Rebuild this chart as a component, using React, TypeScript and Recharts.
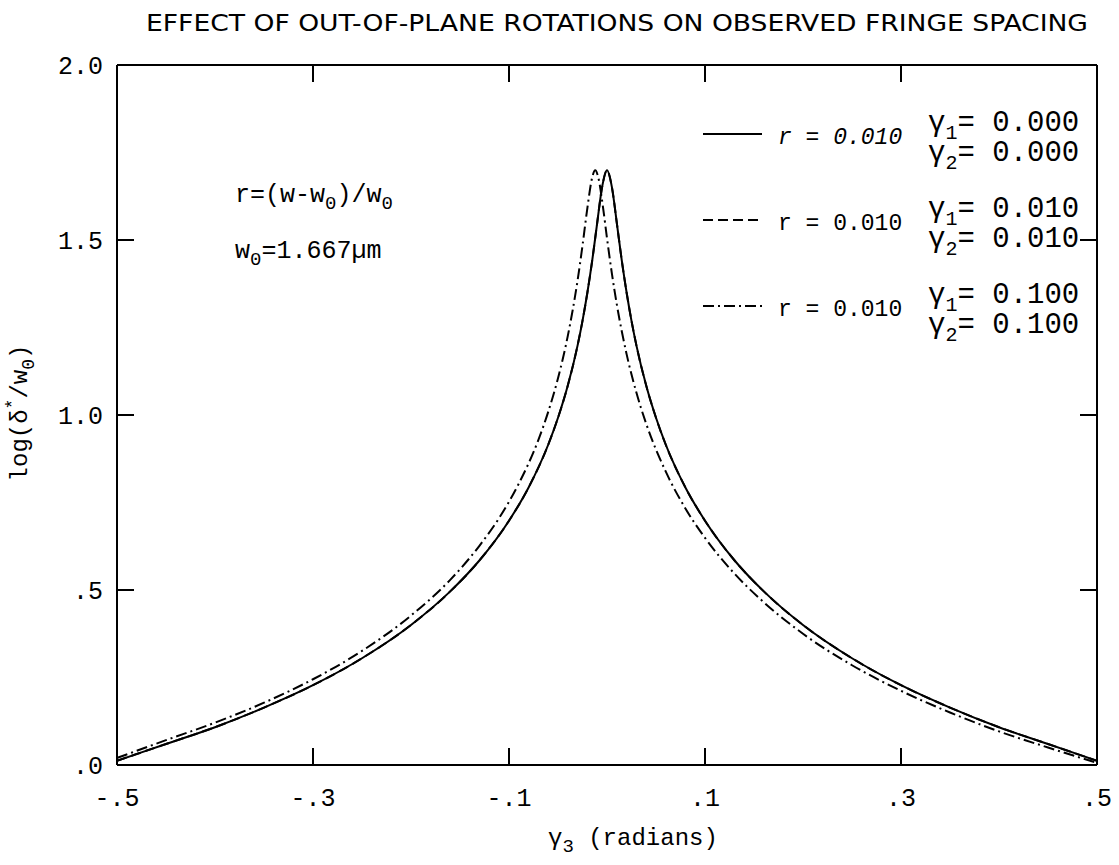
import React from "react";
import { LineChart, Line, XAxis, YAxis } from "recharts";

const xTicks = [-0.5, -0.3, -0.1, 0.1, 0.3, 0.5];
const yTicks = [0, 0.5, 1.0, 1.5, 2.0];

// r = 0.010, gamma1 = gamma2 = 0.000 (solid)
const solidX = [-0.5, -0.45, -0.4, -0.35, -0.3, -0.25, -0.2, -0.16, -0.13, -0.1, -0.08, -0.06, -0.05, -0.04, -0.03, -0.025, -0.02, -0.015, -0.01, -0.005, 0,
  0.005, 0.01, 0.015, 0.02, 0.025, 0.03, 0.04, 0.05, 0.06, 0.08, 0.1, 0.13, 0.16, 0.2, 0.25, 0.3, 0.35, 0.4, 0.45, 0.5];
const solidY = [0.012, 0.060, 0.108, 0.164, 0.228, 0.305, 0.400, 0.496, 0.585, 0.698, 0.793, 0.915, 0.992, 1.084, 1.199, 1.269, 1.350, 1.443, 1.549, 1.651, 1.699,
  1.651, 1.549, 1.443, 1.350, 1.269, 1.199, 1.084, 0.992, 0.915, 0.793, 0.698, 0.585, 0.496, 0.400, 0.305, 0.228, 0.164, 0.108, 0.060, 0.012];

// r = 0.010, gamma1 = gamma2 = 0.010 (dashed) - nearly coincides with solid
const dashedX = [-0.5, -0.45, -0.4, -0.35, -0.3, -0.25, -0.2, -0.16, -0.13, -0.1, -0.08, -0.06, -0.05, -0.04, -0.03, -0.025, -0.02, -0.015, -0.01, -0.005, 0,
  0.005, 0.01, 0.015, 0.02, 0.025, 0.03, 0.04, 0.05, 0.06, 0.08, 0.1, 0.13, 0.16, 0.2, 0.25, 0.3, 0.35, 0.4, 0.45, 0.5];
const dashedY = [0.012, 0.060, 0.108, 0.164, 0.228, 0.305, 0.400, 0.496, 0.585, 0.698, 0.793, 0.915, 0.992, 1.084, 1.199, 1.269, 1.350, 1.443, 1.549, 1.651, 1.699,
  1.651, 1.549, 1.443, 1.350, 1.269, 1.199, 1.084, 0.992, 0.915, 0.793, 0.698, 0.585, 0.496, 0.400, 0.305, 0.228, 0.164, 0.108, 0.060, 0.012];

// r = 0.010, gamma1 = gamma2 = 0.100 (dash-dot)
const dashDotX = [-0.5, -0.45, -0.4, -0.35, -0.3, -0.25, -0.2, -0.16, -0.13, -0.11, -0.09, -0.07, -0.06, -0.05, -0.04, -0.035, -0.03, -0.025, -0.02, -0.015, -0.012,
  -0.009, -0.004, 0, 0.005, 0.01, 0.02, 0.03, 0.04, 0.06, 0.08, 0.1, 0.13, 0.16, 0.2, 0.25, 0.3, 0.35, 0.4, 0.45, 0.5];
const dashDotY = [0.020, 0.071, 0.121, 0.178, 0.245, 0.326, 0.427, 0.529, 0.627, 0.706, 0.804, 0.929, 1.009, 1.105, 1.226, 1.300, 1.385, 1.484, 1.592, 1.680, 1.699,
  1.680, 1.592, 1.505, 1.404, 1.316, 1.174, 1.064, 0.975, 0.838, 0.733, 0.649, 0.547, 0.465, 0.375, 0.285, 0.212, 0.150, 0.096, 0.050, 0.006];

const toRows = (xs: number[], ys: number[]) => xs.map((x, i) => ({ x, y: ys[i] }));
const solidData = toRows(solidX, solidY);
const dashedData = toRows(dashedX, dashedY);
const dashDotData = toRows(dashDotX, dashDotY);

const MONO = "'Liberation Mono', 'DejaVu Sans Mono', monospace";
const SANS = "'Liberation Sans Narrow', 'DejaVu Sans Condensed', 'Liberation Sans', sans-serif";
const TICK_LEN = 17;

const fmtX = (v: number) => {
  const s = "." + Math.round(Math.abs(v) * 10);
  return v < 0 ? "-" + s : s;
};
const fmtY = (v: number) => (v < 1 ? "." + Math.round(v * 10) : v.toFixed(1));

const BottomTick = (p: any) => {
  const { x, y, payload } = p;
  const v = payload.value;
  const inner = Math.abs(v) < 0.49;
  return (
    <g>
      {inner && <line x1={x} x2={x} y1={y} y2={y - TICK_LEN} stroke="#000" strokeWidth={2} />}
      <text x={x} y={y + 41} textAnchor="middle" fontFamily={MONO} fontSize={25} fill="#000">
        {fmtX(v)}
      </text>
    </g>
  );
};
const TopTick = (p: any) => {
  const { x, y, payload } = p;
  const inner = Math.abs(payload.value) < 0.49;
  return <g>{inner && <line x1={x} x2={x} y1={y} y2={y + TICK_LEN} stroke="#000" strokeWidth={2} />}</g>;
};
const LeftTick = (p: any) => {
  const { x, y, payload } = p;
  const v = payload.value;
  const inner = v > 0.01 && v < 1.99;
  return (
    <g>
      {inner && <line x1={x} x2={x + TICK_LEN} y1={y} y2={y} stroke="#000" strokeWidth={2} />}
      <text x={x - 14} y={y + 9} textAnchor="end" fontFamily={MONO} fontSize={25} fill="#000">
        {fmtY(v)}
      </text>
    </g>
  );
};
const RightTick = (p: any) => {
  const { x, y, payload } = p;
  const v = payload.value;
  const inner = v > 0.01 && v < 1.99;
  return <g>{inner && <line x1={x} x2={x - TICK_LEN} y1={y} y2={y} stroke="#000" strokeWidth={2} />}</g>;
};

const axisLine = { stroke: "#000", strokeWidth: 2 };

const LegendRow = ({ y, dash, g1, g2, italic }: { y: number; dash?: string; g1: string; g2: string; italic?: boolean }) => (
  <g>
    <line x1={703} x2={762} y1={y - 10} y2={y - 10} stroke="#000" strokeWidth={2} strokeDasharray={dash} />
    <text x={778} y={y} fontFamily={MONO} fontSize={23} fontStyle={italic ? "italic" : "normal"} xmlSpace="preserve" fill="#000">
      r = 0.010
    </text>
    <text x={928} y={y - 13} fontFamily={MONO} fontSize={29} fill="#000" xmlSpace="preserve">
      γ<tspan fontSize={20} dy={8}>1</tspan><tspan dy={-8}>= {g1}</tspan>
    </text>
    <text x={928} y={y + 17} fontFamily={MONO} fontSize={29} fill="#000" xmlSpace="preserve">
      γ<tspan fontSize={20} dy={8}>2</tspan><tspan dy={-8}>= {g2}</tspan>
    </text>
  </g>
);

export default function App() {
  return (
    <div style={{ position: "absolute", left: 0, top: 0, width: 1119, height: 865, background: "#fff" }}>
      <div style={{ position: "absolute", left: 0, top: 0 }}>
        <LineChart width={1119} height={865} margin={{ top: 35, right: 12, bottom: 60, left: 57 }}>
          <XAxis
            xAxisId={0}
            type="number"
            dataKey="x"
            domain={[-0.5, 0.5]}
            ticks={xTicks}
            allowDataOverflow
            orientation="bottom"
            height={40}
            axisLine={axisLine}
            tickLine={false}
            tickSize={0}
            tickMargin={0}
            tick={BottomTick}
            interval={0}
          />
          <XAxis
            xAxisId="top"
            type="number"
            dataKey="x"
            domain={[-0.5, 0.5]}
            ticks={xTicks}
            allowDataOverflow
            orientation="top"
            height={30}
            axisLine={axisLine}
            tickLine={false}
            tickSize={0}
            tickMargin={0}
            tick={TopTick}
            interval={0}
          />
          <YAxis
            yAxisId={0}
            type="number"
            domain={[0, 2]}
            ticks={yTicks}
            allowDataOverflow
            orientation="left"
            width={60}
            axisLine={axisLine}
            tickLine={false}
            tickSize={0}
            tickMargin={0}
            tick={LeftTick}
            interval={0}
          />
          <YAxis
            yAxisId="right"
            type="number"
            domain={[0, 2]}
            ticks={yTicks}
            allowDataOverflow
            orientation="right"
            width={10}
            axisLine={axisLine}
            tickLine={false}
            tickSize={0}
            tickMargin={0}
            tick={RightTick}
            interval={0}
          />
          <Line data={dashedData} dataKey="y" type="monotone" stroke="#000" strokeWidth={2} strokeDasharray="10 5" dot={false} activeDot={false} isAnimationActive={false} />
          <Line data={dashDotData} dataKey="y" type="monotone" stroke="#000" strokeWidth={2} strokeDasharray="11 4 2 4" dot={false} activeDot={false} isAnimationActive={false} />
          <Line data={solidData} dataKey="y" type="monotone" stroke="#000" strokeWidth={2} dot={false} activeDot={false} isAnimationActive={false} />
        </LineChart>
      </div>
      <svg width={1119} height={865} style={{ position: "absolute", left: 0, top: 0, pointerEvents: "none" }}>
        <text x={146} y={31} fontFamily={SANS} fontSize={23} textLength={942} lengthAdjust="spacingAndGlyphs" fill="#000">
          EFFECT OF OUT-OF-PLANE ROTATIONS ON OBSERVED FRINGE SPACING
        </text>
        <text x={27} y={413} transform="rotate(-90, 27, 413)" textAnchor="middle" fontFamily={MONO} fontSize={24} fill="#000">
          log(δ<tspan fontSize={18} dy={-9}>*</tspan><tspan dy={9}>/w</tspan><tspan fontSize={18} dy={7}>0</tspan><tspan dy={-7}>)</tspan>
        </text>
        <text x={548} y={845} fontFamily={MONO} fontSize={24} fill="#000" xmlSpace="preserve">
          γ<tspan fontSize={19} dy={7}>3</tspan><tspan dy={-7}> (radians)</tspan>
        </text>
        <text x={235} y={202} fontFamily={MONO} fontSize={25} fill="#000">
          r=(w-w<tspan fontSize={19} dy={7}>0</tspan><tspan dy={-7}>)/w</tspan><tspan fontSize={19} dy={7}>0</tspan>
        </text>
        <text x={235} y={258} fontFamily={MONO} fontSize={25} fill="#000">
          w<tspan fontSize={19} dy={7}>0</tspan><tspan dy={-7}>=1.667µm</tspan>
        </text>
        <LegendRow y={144} g1="0.000" g2="0.000" italic />
        <LegendRow y={230} dash="10 5" g1="0.010" g2="0.010" />
        <LegendRow y={316} dash="11 4 2 4" g1="0.100" g2="0.100" />
      </svg>
    </div>
  );
}
